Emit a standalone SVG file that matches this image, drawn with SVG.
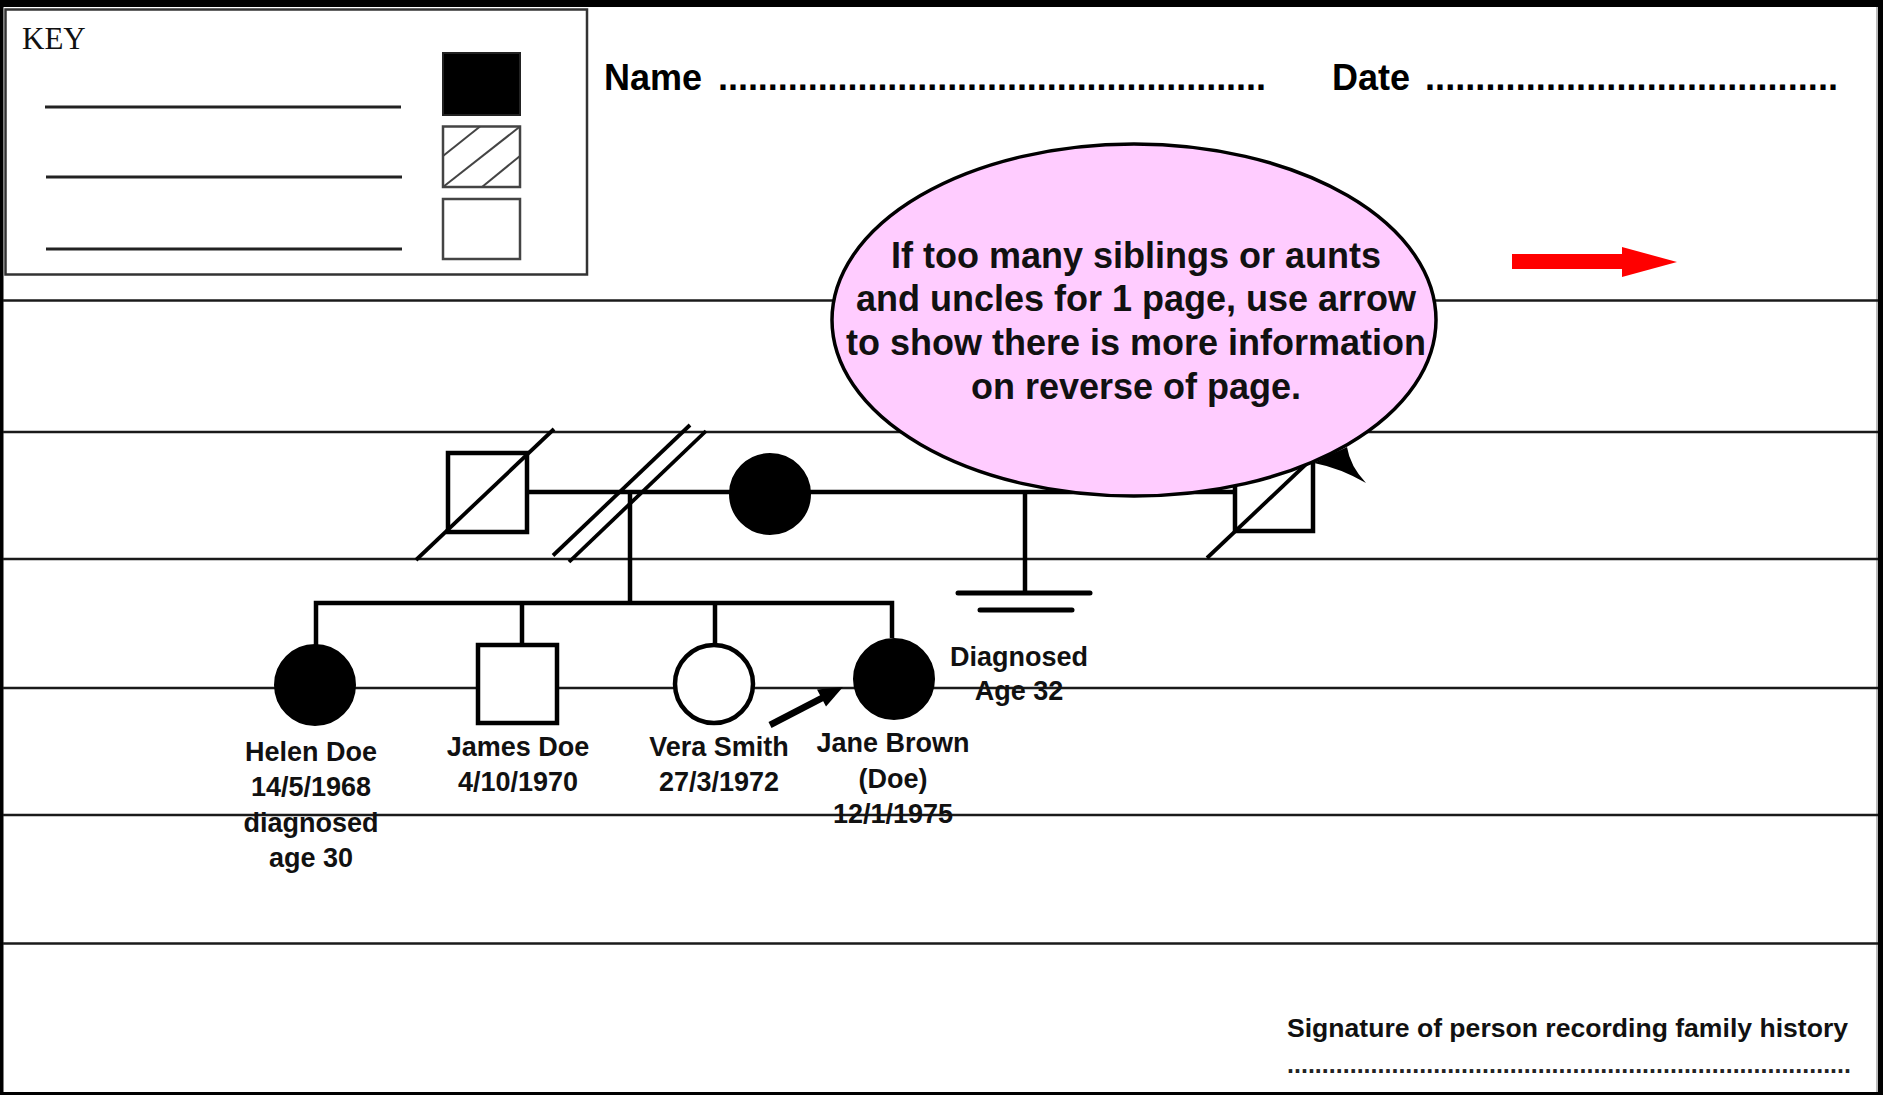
<svg xmlns="http://www.w3.org/2000/svg" width="1883" height="1095" viewBox="0 0 1883 1095">
<style>
.rule{stroke:#1a1a1a;stroke-width:2.4;fill:none}
.ped{stroke:#000;stroke-width:4.5;fill:none}
.slash{stroke:#000;stroke-width:3.8;fill:none}
.bar{stroke:#000;stroke-width:5;fill:none;stroke-linecap:round}
.sym{stroke:#000;stroke-width:4.5;fill:#fff}
.aff{stroke:#000;stroke-width:2;fill:#000}
.lbl{font-family:"Liberation Sans",Arial,sans-serif;font-weight:bold;font-size:27px;fill:#111;text-anchor:middle}
.hdr{font-family:"Liberation Sans",Arial,sans-serif;font-weight:bold;font-size:36px;fill:#000}
.bub{font-family:"Liberation Sans",Arial,sans-serif;font-weight:bold;font-size:36px;fill:#111;text-anchor:middle}
.keyl{stroke:#222;stroke-width:3}
.keyb{stroke:#444;stroke-width:2.5;fill:#fff}
.hatch{stroke:#444;stroke-width:2}
</style>
<!-- page frame -->
<rect x="0" y="0" width="1883" height="1095" fill="#000"/>
<rect x="3.5" y="7" width="1874.5" height="1085" fill="#fff"/>
<line x1="1877" y1="7" x2="1877" y2="1092" stroke="#777" stroke-width="1"/>
<!-- ruled lines -->
<g id="rules">
<line class="rule" x1="3" y1="300.5" x2="1878" y2="300.5"/>
<line class="rule" x1="3" y1="432" x2="1878" y2="432"/>
<line class="rule" x1="3" y1="559" x2="1878" y2="559"/>
<line class="rule" x1="3" y1="688" x2="1878" y2="688"/>
<line class="rule" x1="3" y1="815" x2="1878" y2="815"/>
<line class="rule" x1="3" y1="943.5" x2="1878" y2="943.5"/>
</g>
<!-- key -->
<g id="key">
<rect x="5.5" y="9.5" width="581.5" height="265" fill="#fff" stroke="#333" stroke-width="2.5"/>
<text x="22" y="49" font-family="'Liberation Serif','Times New Roman',serif" font-size="31" fill="#111">KEY</text>
<line class="keyl" x1="45" y1="107" x2="401" y2="107"/>
<line class="keyl" x1="46" y1="177" x2="402" y2="177"/>
<line class="keyl" x1="46" y1="249" x2="402" y2="249"/>
<rect x="443" y="53" width="77" height="62" fill="#000" stroke="#222" stroke-width="2"/>
<rect class="keyb" x="443" y="126.5" width="77" height="60.5"/>
<line class="hatch" x1="443" y1="156" x2="480" y2="126.5"/>
<line class="hatch" x1="443" y1="187" x2="520" y2="126.5"/>
<line class="hatch" x1="482" y1="187" x2="520" y2="156"/>
<rect class="keyb" x="443" y="199" width="77" height="60"/>
</g>
<!-- header -->
<g id="header">
<text class="hdr" x="604" y="90">Name</text>
<text class="hdr" x="718" y="90" textLength="548" lengthAdjust="spacing">.......................................................</text>
<text class="hdr" x="1332" y="90">Date</text>
<text class="hdr" x="1425" y="90" textLength="413" lengthAdjust="spacing">.........................................</text>
</g>
<!-- red continuation arrow -->
<g id="more-arrow">
<rect x="1512" y="254" width="112" height="15" fill="#f00"/>
<polygon points="1622,247 1677,262 1622,277" fill="#f00"/>
</g>
<!-- connectors -->
<g id="connectors">
<line class="ped" x1="527" y1="492" x2="1235" y2="492"/>
<line class="slash" x1="553" y1="555.5" x2="690" y2="425"/>
<line class="slash" x1="569" y1="562" x2="706" y2="431"/>
<line class="ped" x1="630" y1="490" x2="630" y2="603"/>
<polyline class="ped" points="316,645 316,603 892,603 892,638"/>
<line class="ped" x1="522" y1="603" x2="522" y2="645"/>
<line class="ped" x1="715" y1="603" x2="715" y2="645"/>
<line class="ped" x1="1025" y1="492" x2="1025" y2="593"/>
<line class="bar" x1="958" y1="593" x2="1090" y2="593"/>
<line class="bar" x1="980" y1="610" x2="1072" y2="610"/>
<g id="proband-arrow">
<line x1="770" y1="725" x2="824" y2="697" stroke="#000" stroke-width="6.5"/>
<polygon points="843,687 826,706.5 817,689.5" fill="#000"/>
</g>
</g>
<!-- people -->
<g id="grandfather1">
<rect class="sym" x="448" y="453" width="79" height="79"/>
<line class="slash" x1="416" y1="560" x2="554" y2="429"/>
</g>
<g id="grandmother">
<circle class="aff" cx="770" cy="494" r="40"/>
</g>
<g id="grandfather2">
<rect class="sym" x="1235" y="453" width="78" height="78"/>
<line class="slash" x1="1207" y1="558" x2="1340" y2="432"/>
</g>
<g id="helen">
<circle class="aff" cx="315" cy="685" r="40"/>
<text class="lbl" x="311" y="761">Helen Doe</text>
<text class="lbl" x="311" y="796">14/5/1968</text>
<text class="lbl" x="311" y="832">diagnosed</text>
<text class="lbl" x="311" y="867">age 30</text>
</g>
<g id="james">
<rect class="sym" x="478" y="645" width="79" height="78"/>
<text class="lbl" x="518" y="756">James Doe</text>
<text class="lbl" x="518" y="791">4/10/1970</text>
</g>
<g id="vera">
<circle class="sym" cx="714" cy="684" r="39"/>
<text class="lbl" x="719" y="756">Vera Smith</text>
<text class="lbl" x="719" y="791">27/3/1972</text>
</g>
<g id="jane">
<circle class="aff" cx="894" cy="679" r="40"/>
<text class="lbl" x="893" y="752">Jane Brown</text>
<text class="lbl" x="893" y="788">(Doe)</text>
<text class="lbl" x="893" y="823">12/1/1975</text>
</g>
<g id="diagnosed-note">
<text class="lbl" x="1019" y="666">Diagnosed</text>
<text class="lbl" x="1019" y="700">Age 32</text>
</g>
<!-- callout -->
<g id="callout">
<path d="M1314,463 Q1340,450 1347,447 Q1350,466 1366,483 Q1340,468 1314,463 Z" fill="#000"/>
<ellipse cx="1134" cy="320" rx="302" ry="176" fill="#ffccff" stroke="#000" stroke-width="3.5"/>
<text class="bub" x="1136" y="268">If too many siblings or aunts</text>
<text class="bub" x="1136" y="311">and uncles for 1 page, use arrow</text>
<text class="bub" x="1136" y="355">to show there is more information</text>
<text class="bub" x="1136" y="399">on reverse of page.</text>
</g>
<!-- signature -->
<g id="signature">
<text x="1287" y="1037" font-family="'Liberation Sans',Arial,sans-serif" font-weight="bold" font-size="26" fill="#111" textLength="561" lengthAdjust="spacingAndGlyphs">Signature of person recording family history</text>
<text x="1287" y="1073" font-family="'Liberation Sans',Arial,sans-serif" font-weight="bold" font-size="25" fill="#222" textLength="564" lengthAdjust="spacing">.................................................................................</text>
</g>
</svg>
